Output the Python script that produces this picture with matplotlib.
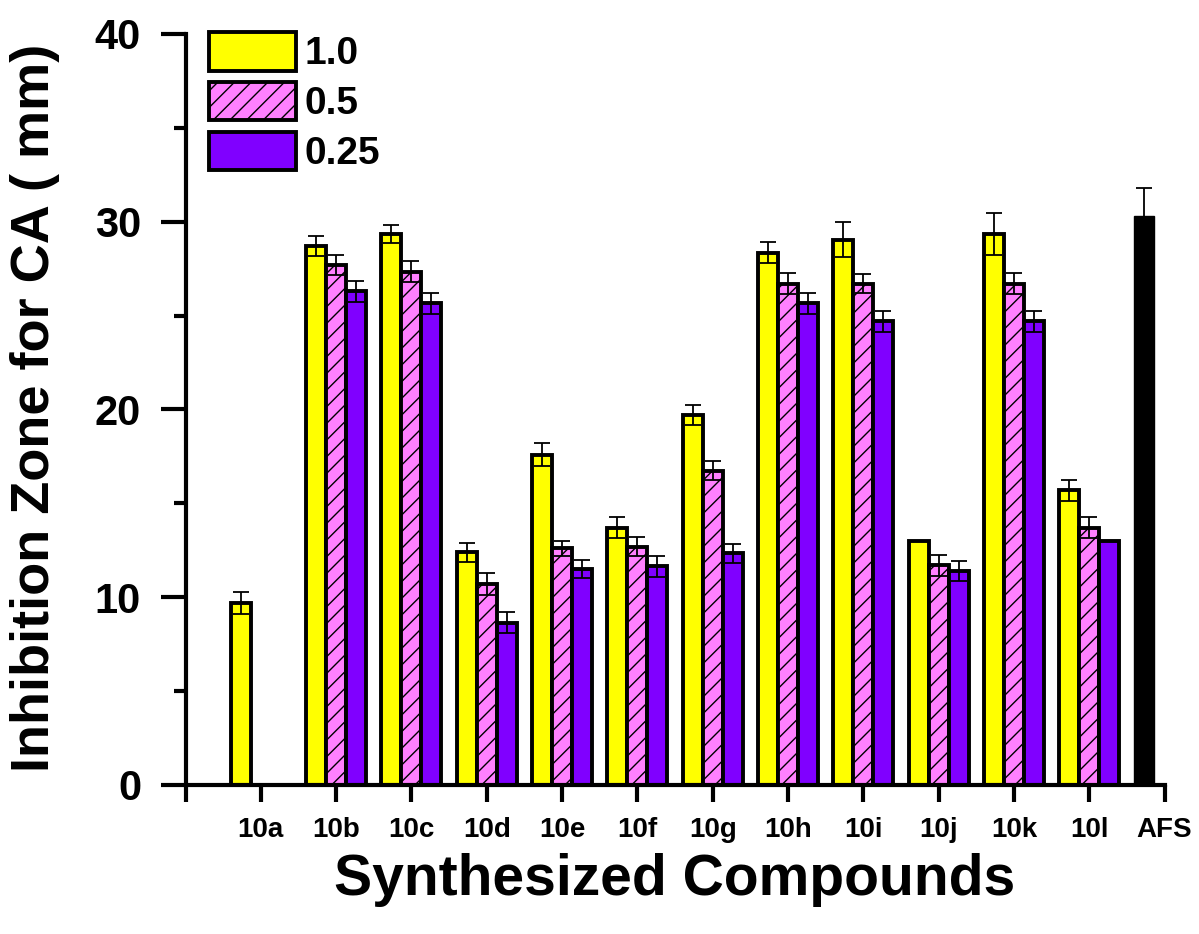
import matplotlib
matplotlib.use("Agg")
import matplotlib.pyplot as plt
import numpy as np
from matplotlib.patches import Patch

plt.rcParams['font.family'] = ['Liberation Sans', 'DejaVu Sans']
plt.rcParams['font.weight'] = 'bold'
plt.rcParams['hatch.linewidth'] = 1.0

compounds = ['10a', '10b', '10c', '10d', '10e', '10f', '10g', '10h', '10i', '10j', '10k', '10l']
series_labels = ['1.0', '0.5', '0.25']
vals_10 = [9.7, 28.7, 29.35, 12.4, 17.6, 13.7, 19.7, 28.35, 29.05, 13.0, 29.35, 15.7]
err_10 = [0.6, 0.55, 0.5, 0.5, 0.6, 0.55, 0.55, 0.55, 0.95, 0.0, 1.1, 0.55]
vals_05 = [np.nan, 27.7, 27.35, 10.7, 12.6, 12.7, 16.75, 26.7, 26.7, 11.7, 26.7, 13.7]
err_05 = [0.0, 0.55, 0.55, 0.6, 0.4, 0.5, 0.5, 0.55, 0.5, 0.55, 0.55, 0.55]
vals_025 = [np.nan, 26.3, 25.65, 8.65, 11.5, 11.65, 12.35, 25.65, 24.7, 11.4, 24.7, 13.0]
err_025 = [0.0, 0.55, 0.55, 0.55, 0.5, 0.55, 0.5, 0.55, 0.55, 0.55, 0.55, 0.0]
afs_label = 'AFS'
afs_val = 30.3
afs_err = 1.5

fig = plt.figure(figsize=(11.99, 9.34), dpi=100)
ax = fig.add_axes([185.5/1199, 149/934, 979/1199, 751/934])

w = 0.266
x = np.arange(1, len(compounds) + 1)
ekw = dict(ecolor='black', elinewidth=1.3, capsize=6, capthick=1.3)
bar_kw = dict(edgecolor='black', linewidth=2.8)

ax.bar(x - w, vals_10, w, color='#FFFF00', yerr=err_10, error_kw=ekw, **bar_kw, label=series_labels[0], zorder=2)
ax.bar(x, vals_05, w, color='#FF80FF', hatch='//', yerr=err_05, error_kw=ekw, **bar_kw, label=series_labels[1], zorder=2)
ax.bar(x + w, vals_025, w, color='#8000FF', yerr=err_025, error_kw=ekw, **bar_kw, label=series_labels[2], zorder=2)
xa = len(compounds) + 1
ax.bar([xa - w], [afs_val], w, color='black', edgecolor='black', linewidth=1, yerr=[afs_err], error_kw=ekw, zorder=2)

ax.set_xlim(0, 13)
ax.set_ylim(0, 40)
for s in ['top', 'right']:
    ax.spines[s].set_visible(False)
for s in ['left', 'bottom']:
    ax.spines[s].set_linewidth(3)

ax.set_xticks(np.arange(0, 14))
ax.set_xticklabels([''] + compounds + [afs_label], fontsize=20, fontweight='bold')
ax.set_yticks([0, 10, 20, 30, 40])
ax.set_yticks([5, 15, 25, 35], minor=True)
ax.tick_params(axis='y', which='major', direction='out', length=18, width=3, labelsize=30, pad=14)
ax.tick_params(axis='y', which='minor', direction='out', length=9, width=3)
ax.tick_params(axis='x', which='major', direction='out', length=12, width=3, pad=11)
for t in ax.get_yticklabels():
    t.set_fontweight('bold')

handles = [Patch(facecolor='#FFFF00', edgecolor='black', linewidth=2.8),
           Patch(facecolor='#FF80FF', edgecolor='black', linewidth=2.8, hatch='//'),
           Patch(facecolor='#8000FF', edgecolor='black', linewidth=2.8)]
leg = fig.legend(handles, series_labels, loc='upper left', bbox_to_anchor=(209/1199, 1 - 32/934),
                 frameon=False, handlelength=2.23, handleheight=1.15,
                 labelspacing=0.24, handletextpad=0.22, borderpad=0, borderaxespad=0,
                 prop={'weight': 'bold', 'size': 28})

fig.text(35/1199, 1 - 408/934, 'Inhibition Zone for CA ( mm)', rotation=90, ha='center', va='center',
         fontsize=39, fontweight='bold')
fig.text(675/1199, 1 - 880/934, 'Synthesized Compounds', ha='center', va='center',
         fontsize=41, fontweight='bold')

fig.savefig('out.png', dpi=100)
